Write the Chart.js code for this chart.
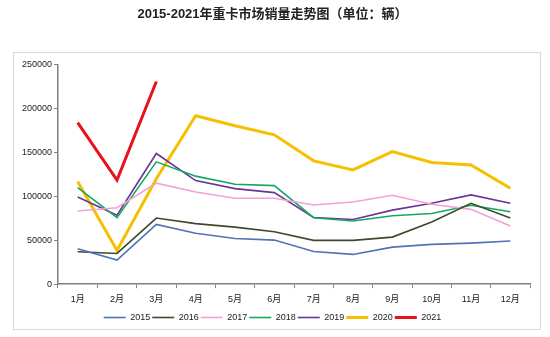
<!DOCTYPE html>
<html><head><meta charset="utf-8">
<script src="https://cdn.jsdelivr.net/npm/chart.js@4/dist/chart.umd.min.js"></script>
<style>
html,body{margin:0;padding:0;background:#fff;}
#wrap{position:relative;width:550px;height:337px;}
#frame{position:absolute;left:13px;top:52px;width:528px;height:278px;border:1px solid #d9d9d9;box-sizing:border-box;pointer-events:none;}
</style></head>
<body><div id="wrap"><canvas id="c" width="550" height="337"></canvas><div id="frame"></div></div>
<script>
const months = ['1月','2月','3月','4月','5月','6月','7月','8月','9月','10月','11月','12月'];
const s2015 = [40300, 27400, 68100, 58000, 52000, 50200, 37300, 33900, 42200, 45300, 46800, 49100];
const s2016 = [36900, 35000, 75300, 69000, 65000, 59700, 49900, 49900, 53600, 70800, 92100, 75300];
const s2017 = [83300, 87100, 115000, 105000, 97800, 97800, 90200, 93600, 101200, 91000, 85200, 66200];
const s2018 = [110000, 75700, 139300, 123000, 113800, 112200, 75700, 72000, 77900, 80500, 89800, 82500];
const s2019 = [99300, 78500, 148800, 118000, 108800, 104300, 76000, 73600, 84300, 92100, 101700, 92100];
const s2020 = [116800, 38500, 120000, 191800, 180300, 170100, 140400, 130100, 151000, 138500, 135800, 109200];
const s2021 = [184000, 118500, 230800];
const yTicks = [0, 50000, 100000, 150000, 200000, 250000];

const FONT = '"Liberation Sans","Noto Sans CJK SC",sans-serif';
const mk = (label, data, color, w) => ({label, data, borderColor: color, backgroundColor: color, borderWidth: w, pointRadius: 0, tension: 0, fill: false});

new Chart(document.getElementById('c'), {
  type: 'line',
  data: {
    labels: months,
    datasets: [
      mk('2015', s2015, '#4f72b8', 1.6),
      mk('2016', s2016, '#3e4a2c', 1.6),
      mk('2017', s2017, '#f2a1d2', 1.6),
      mk('2018', s2018, '#16a860', 1.6),
      mk('2019', s2019, '#6a3499', 1.6),
      mk('2020', s2020, '#f6c000', 3),
      mk('2021', s2021, '#e8121b', 3)
    ]
  },
  options: {
    responsive: false,
    animation: false,
    layout: {padding: {left: 15, right: 20, top: 0, bottom: 5}},
    plugins: {
      title: {display: true, text: '2015-2021年重卡市场销量走势图（单位：辆）', color: '#222',
        font: {family: FONT, size: 13, weight: 'bold'},
        padding: {top: 7, bottom: 42}},
      legend: {position: 'bottom',
        labels: {usePointStyle: true, pointStyle: 'line', pointStyleWidth: 22, boxHeight: 9, padding: 2, color: '#222',
          font: {family: FONT, size: 9}}},
      tooltip: {enabled: false}
    },
    scales: {
      x: {
        offset: true,
        grid: {offset: true, drawOnChartArea: false, drawTicks: true, tickLength: 4, color: '#808080'},
        border: {color: '#808080', width: 1.5},
        ticks: {color: '#222', padding: 6, maxRotation: 0, font: {family: FONT, size: 9}}
      },
      y: {
        min: 0, max: 250000,
        afterBuildTicks: s => { s.ticks = yTicks.map(v => ({value: v})); },
        afterFit: s => { s.width = 43; },
        grid: {drawOnChartArea: false, drawTicks: true, tickLength: 4, color: '#808080'},
        border: {color: '#808080', width: 1.5},
        ticks: {color: '#222', padding: 2, callback: v => String(v), font: {family: FONT, size: 9}}
      }
    }
  }
});
</script></body></html>
